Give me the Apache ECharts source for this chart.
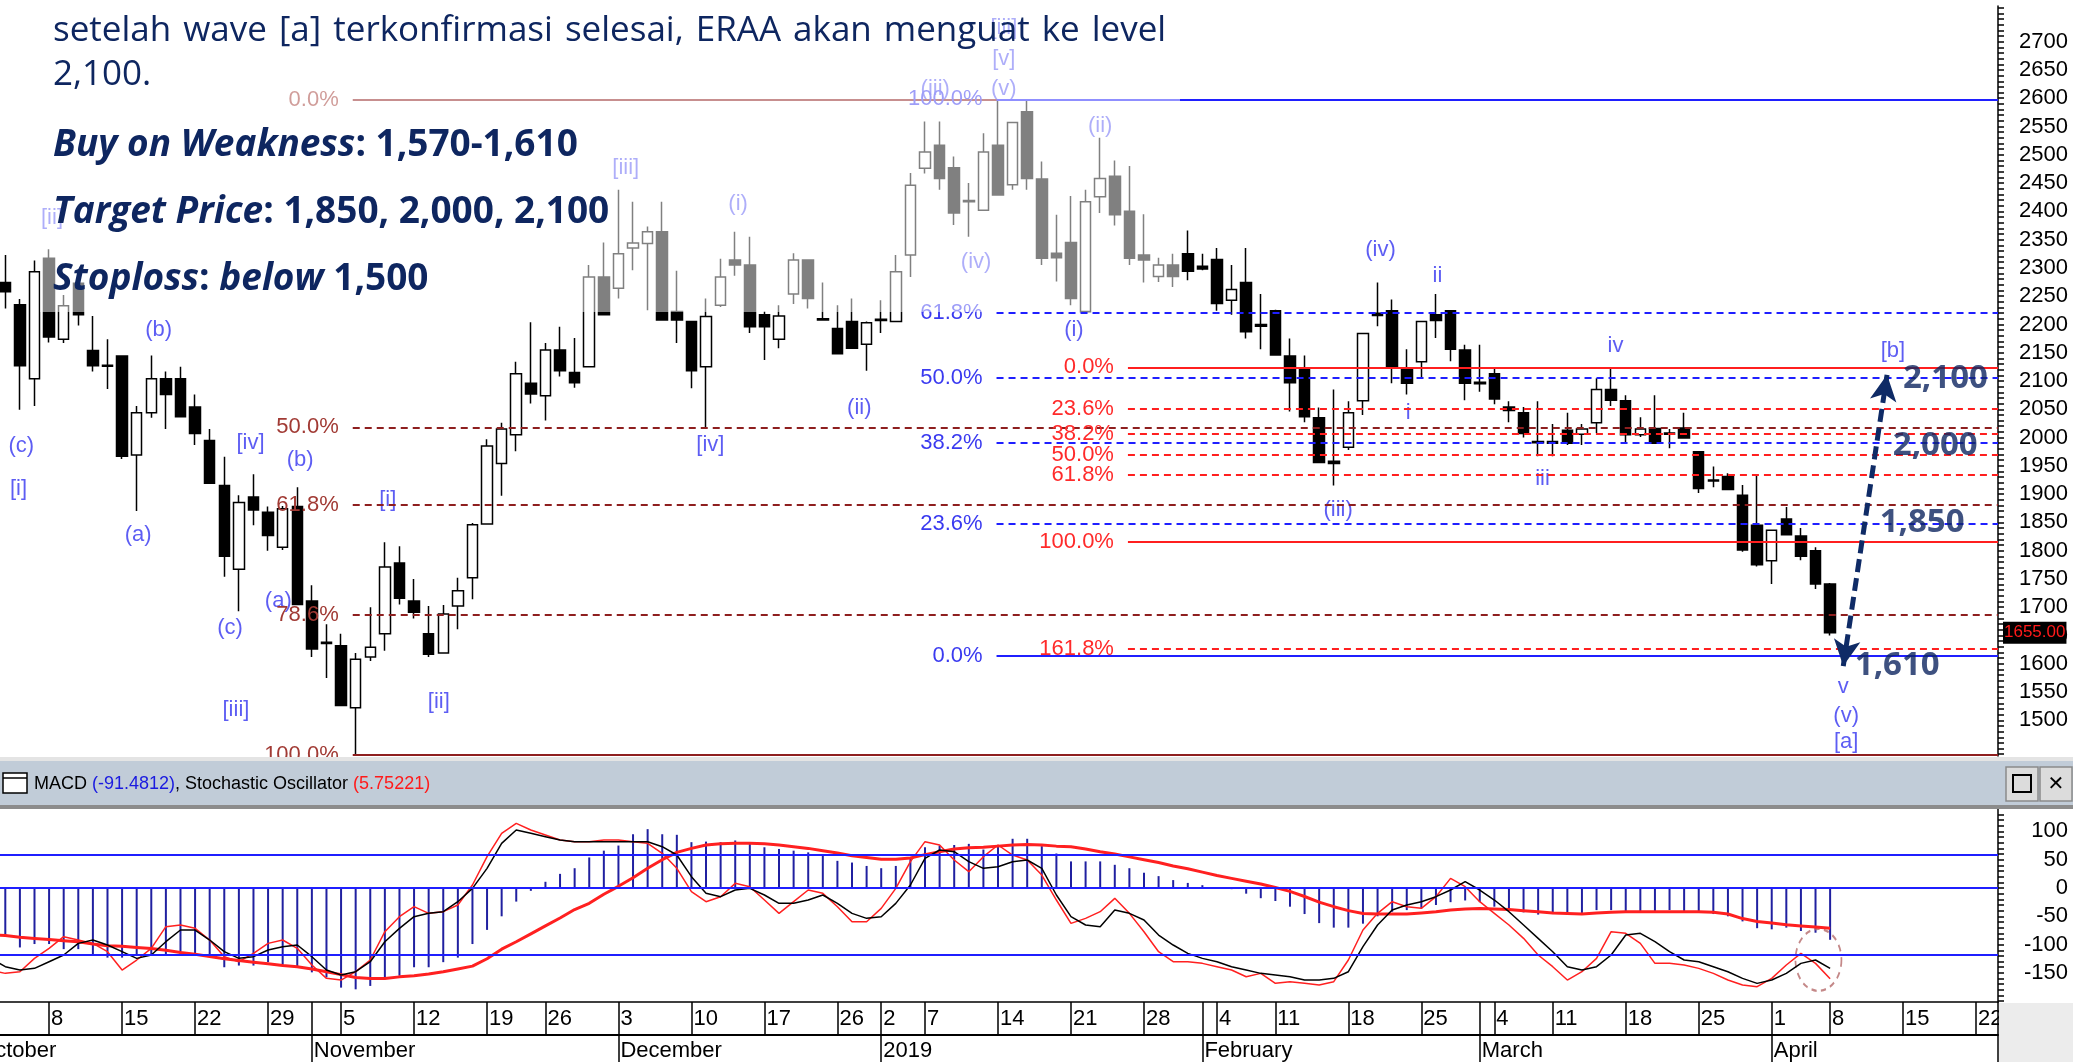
<!DOCTYPE html>
<html>
<head>
<meta charset="utf-8">
<script src="https://cdn.jsdelivr.net/npm/echarts@6.0.0/dist/echarts.min.js"></script>
<style>
html,body{margin:0;padding:0;background:#ffffff;overflow:hidden;}
#chart{width:2073px;height:1062px;}
</style>
</head>
<body>
<div id="chart"></div>
<script>
// ================= DATA =================
const dates = [
'2018-10-01','2018-10-02','2018-10-03','2018-10-04','2018-10-05','2018-10-08','2018-10-09','2018-10-10','2018-10-11','2018-10-12',
'2018-10-15','2018-10-16','2018-10-17','2018-10-18','2018-10-19','2018-10-22','2018-10-23','2018-10-24','2018-10-25','2018-10-26',
'2018-10-29','2018-10-30','2018-10-31',
'2018-11-01','2018-11-02','2018-11-05','2018-11-06','2018-11-07','2018-11-08','2018-11-09','2018-11-12','2018-11-13','2018-11-14',
'2018-11-15','2018-11-16','2018-11-19','2018-11-21','2018-11-22','2018-11-23','2018-11-26','2018-11-27','2018-11-28','2018-11-29','2018-11-30',
'2018-12-03','2018-12-04','2018-12-05','2018-12-06','2018-12-07','2018-12-10','2018-12-11','2018-12-12','2018-12-13','2018-12-14',
'2018-12-17','2018-12-18','2018-12-19','2018-12-20','2018-12-21','2018-12-26','2018-12-27','2018-12-28',
'2019-01-02','2019-01-03','2019-01-04','2019-01-07','2019-01-08','2019-01-09','2019-01-10','2019-01-11','2019-01-14','2019-01-15',
'2019-01-16','2019-01-17','2019-01-18','2019-01-21','2019-01-22','2019-01-23','2019-01-24','2019-01-25','2019-01-28','2019-01-29','2019-01-30','2019-01-31',
'2019-02-01','2019-02-04','2019-02-06','2019-02-07','2019-02-08','2019-02-11','2019-02-12','2019-02-13','2019-02-14','2019-02-15',
'2019-02-18','2019-02-19','2019-02-20','2019-02-21','2019-02-22','2019-02-25','2019-02-26','2019-02-27','2019-02-28',
'2019-03-01','2019-03-04','2019-03-05','2019-03-06','2019-03-08','2019-03-11','2019-03-12','2019-03-13','2019-03-14','2019-03-15',
'2019-03-18','2019-03-19','2019-03-20','2019-03-21','2019-03-22','2019-03-25','2019-03-26','2019-03-27','2019-03-28','2019-03-29',
'2019-04-01','2019-04-02','2019-04-04','2019-04-05','2019-04-08','2019-04-09','2019-04-10','2019-04-11','2019-04-12',
'2019-04-15','2019-04-16','2019-04-17','2019-04-18','2019-04-19','2019-04-22','2019-04-23'
];

// daily prices, first value = 2018-10-03
const candleStart = '2018-10-03';
const openP = [2274,2235,2104,2317,2174,2273,2154,2128,2144,1969, 2044,2104,2104,2054,1995,1915,1767,1895,1868,1806,
 1878,1711,1638,1632,1522,1612,1653,1778,1711,1653, 1619,1702,1752,1847,1954,2005,2096,2074,2155,2115,
 2125,2284,2264,2335,2343,2364,2223,2205,2125,2234, 2314,2305,2217,2174,2254,2314,2210,2193,2205,2165,
 2209,2205,2323,2476,2517,2477,2419,2402,2517,2447, 2576,2457,2326,2345,2223,2426,2462,2400,2323,2285,
 2305,2325,2303,2315,2243,2274,2200,2224,2144,2122, 2035,1958,1983,2065,2220,2224,2123,2134,2217,2224,
 2155,2098,2113,2054,2044,1993,1993,2013,2006,2026, 2085,2065,2005,2016,2008,2017,1975,1925,1931,1898,
 1845,1782,1856,1826,1800,1741];
const closeP = [2258,2127,2293,2178,2233,2217,2127,2126,1967,2044, 2104,2076,2037,2007,1919,1790,1885,1872,1827,1874,
 1705,1626,1636,1526,1608,1629,1771,1716,1691,1617, 1688,1729,1846,1985,2015,2113,2077,2155,2118,2097,
 2284,2217,2325,2344,2364,2208,2208,2118,2214,2284, 2305,2196,2196,2215,2314,2246,2208,2148,2158,2203,
 2207,2293,2446,2505,2458,2397,2417,2505,2429,2557, 2458,2317,2318,2246,2417,2458,2394,2317,2314,2305,
 2285,2294,2298,2237,2262,2187,2197,2146,2097,2037, 1956,1954,2044,2184,2216,2125,2096,2205,2207,2156,
 2096,2095,2068,2048,2007,1991,1990,1990,2015,2085, 2066,2005,2015,1990,2006,1999,1910,1923,1908,1801,
 1775,1836,1828,1790,1741,1655];
const lowP = [2228,2049,2056,2168,2167,2198,2117,2086,1962,1870, 2035,2015,2037,1987,1919,1754,1693,1845,1800,1801,
 1705,1612,1575,1526,1440,1605,1623,1705,1680,1612, 1619,1661,1714,1847,1897,1976,2060,2030,2108,2088,
 2125,2217,2246,2296,2225,2208,2167,2087,2018,2231, 2286,2185,2137,2158,2236,2228,2208,2148,2158,2118,
 2185,2205,2284,2467,2438,2376,2355,2402,2429,2438, 2438,2305,2276,2234,2223,2397,2375,2305,2274,2275,
 2266,2278,2296,2224,2217,2175,2156,2146,2046,2027, 1956,1915,1978,2040,2197,2096,2076,2104,2176,2135,
 2066,2081,2059,2027,2000,1967,1967,1987,1987,2008, 2056,1989,2001,1989,1981,1998,1902,1912,1908,1798,
 1772,1741,1828,1783,1732,1650];
const highP = [2323,2245,2313,2333,2252,2286,2215,2174,2144,2056, 2145,2117,2125,2076,2015,1966,1898,1935,1878,1879,
 1912,1739,1670,1653,1619,1700,1815,1808,1750,1702, 1704,1752,1849,1997,2026,2134,2204,2167,2196,2176,
 2305,2345,2438,2417,2373,2417,2295,2205,2246,2316, 2364,2355,2223,2234,2326,2314,2274,2234,2246,2205,
 2243,2323,2468,2559,2559,2497,2450,2538,2597,2557, 2597,2488,2394,2427,2438,2530,2490,2480,2395,2318,
 2325,2366,2325,2335,2305,2335,2254,2226,2175,2145, 2053,2085,2064,2184,2274,2244,2156,2205,2254,2224,
 2164,2164,2122,2064,2054,2064,2024,2044,2024,2105, 2123,2075,2036,2075,2015,2044,1976,1949,1937,1916,
 1932,1836,1877,1840,1806,1743];

// indicators, first value = 2018-10-02
const indStart = '2018-10-02';
const macdHist = [-80, -85,-105,-99,-99,-108,-108,-120,-123,-123,-120, -120,-120,-120,-120,-120,-140,-137,-137,-131,-137,
 -140,-149,-158,-176,-179,-173,-161,-155,-140,-140, -131,-123,-99,-74,-50,-24,-5,11,25,35,
 54,66,75,95,104,95,94,81,82,81, 84,78,72,69,66,63,58,48,45,39,
 35,39,54,72,75,76,78,68,75,87, 87,74,61,47,47,47,41,35,27,21,
 14,9,5,0,-2,-10,-18,-23,-33,-46, -62,-70,-70,-63,-50,-42,-39,-36,-30,-25,
 -22,-25,-33,-39,-43,-47,-46,-44,-44,-39, -39,-41,-41,-41,-39,-42,-41,-46,-50,-59,
 -71,-73,-70,-76,-79,-91.4812];
const macdSignal = [-82, -84,-87,-89,-91,-93,-95,-99,-102,-103,-105, -107,-110,-114,-117,-121,-125,-128,-131,-134,-137,
 -139,-143,-148,-153,-158,-160,-160,-157,-155,-152, -148,-143,-138,-125,-108,-95,-81,-67,-53,-38,
 -27,-11,3,18,35,50,63,70,76,78, 79,79,78,76,73,70,66,62,57,54,
 51,51,53,59,64,69,71,72,74,76, 77,76,74,73,69,64,60,55,50,45,
 39,34,28,22,17,12,7,1,-6,-15, -25,-33,-40,-45,-46,-46,-46,-44,-42,-39,
 -37,-36,-37,-38,-40,-42,-44,-45,-46,-44, -43,-42,-42,-42,-42,-42,-42,-43,-46,-54,
 -59,-62,-65,-67,-69,-71];
const stochK = [11, 9,10,18,24,31,29,27,22,11,17, 24,37,38,36,29,19,16,21,27,29,
 24,14,6,5,10,17,34,43,49,45, 46,50,62,79,93,99,95,92,89,88,
 88,89,89,88,87,81,72,58,52,55, 63,61,53,45,52,59,57,49,40,40,
 48,60,76,88,86,77,70,79,86,80, 77,68,53,39,42,46,54,45,34,22,
 16,16,15,13,11,7,9,3,4,3, 2,4,17,35,45,52,49,48,55,66,
 61,52,45,38,30,20,13,5,10,18, 34,33,27,15,15,14,12,9,5,2,
 1,6,14,21,15,5.75221];
const stochD = [18, 13,11,12,16,20,27,29,26,22,18, 20,28,35,35,29,22,18,19,23,25,
 26,19,11,8,10,16,28,36,43,45, 46,52,60,72,87,95,93,91,89,88,
 88,88,88,88,88,85,80,67,57,55, 59,60,56,51,51,53,56,51,45,42,
 43,51,62,78,83,82,76,72,73,76, 77,72,56,43,38,37,47,45,41,32,
 26,21,18,16,13,11,9,8,7,5, 5,6,10,25,38,47,50,52,55,59,
 64,59,53,46,38,30,22,13,11,13, 20,32,33,28,22,17,16,13,10,6,
 3,5,9,15,17,12];

// axis tick labels
const priceLabels = [1500,1550,1600,1650,1700,1750,1800,1850,1900,1950,2000,2050,2100,2150,2200,2250,2300,2350,2400,2450,2500,2550,2600,2650,2700];
const macdLabels = [-150,-100,-50,0,50,100];
const dayLabelDates = ['2018-10-08','2018-10-15','2018-10-22','2018-10-29','2018-11-05','2018-11-12','2018-11-19','2018-11-26',
 '2018-12-03','2018-12-10','2018-12-17','2018-12-26','2019-01-02','2019-01-07','2019-01-14','2019-01-21','2019-01-28',
 '2019-02-04','2019-02-11','2019-02-18','2019-02-25','2019-03-04','2019-03-11','2019-03-18','2019-03-25',
 '2019-04-01','2019-04-08','2019-04-15','2019-04-22'];
const monthStarts = ['2018-10-01','2018-11-01','2018-12-03','2019-01-02','2019-02-01','2019-03-01','2019-04-01'];
const monthNames = ['October','November','December','2019','February','March','April'];

// Fibonacci levels (price)
const darkFibLabels = ['0.0%','50.0%','61.8%','78.6%','100.0%'];
const darkFibPrices = [2597,2018,1881,1686,1439];
const blueFibLabels = ['100.0%','61.8%','50.0%','38.2%','23.6%','0.0%'];
const blueFibPrices = [2598,2221,2106,1990,1847,1614];
const redFibLabels = ['0.0%','23.6%','38.2%','50.0%','61.8%','100.0%','161.8%'];
const redFibPrices = [2124,2051,2006,1970,1934,1816,1626];

// Elliott wave labels (position = date index, price)
const waveText = ['[ii]','(c)','[i]','(b)','(a)','[iv]','(b)','(a)','(c)','[iii]','[i]','[ii]','[iii]','(i)','(ii)','[iv]',
 '(iii)','(v)','[v]','[iii]','(iv)','(ii)','(i)','(iv)','ii','i','(iii)','iii','iv','[b]','v','(v)','[a]'];
const waveIdx = [5.2,3.1,2.9,12.5,11.1,18.8,22.2,20.7,17.4,17.8,28.2,31.7,44.5,52.2,60.5,50.3,
 65.7,70.4,70.4,70.4,68.5,77.0,75.2,96.2,100.1,98.1,93.3,107.3,112.3,131.3,127.9,128.1,128.1];
const wavePrice = [2388,1985,1909,2190,1828,1990,1960,1711,1663,1518,1890,1533,2477,2413,2052,1987,
 2616,2616,2669,2724,2310,2551,2190,2332,2286,2043,1872,1927,2162,2153,1559,1507,1462];

// target annotations
const targetText = ['2,100','2,000','1,850','1,610'];
const targetIdx = [134.9,134.2,133.3,131.6];
const targetPrice = [2105,1985,1850,1596];
const arrowFrom = [127.9,1596];
const arrowTo = [130.9,2111];
const circleAt = [126.2,-127];

// ================= CHART =================
const NARROW = '"Liberation Sans Narrow","Arial Narrow","Liberation Sans",Arial,sans-serif';
const SANS = '"Open Sans","Noto Sans",sans-serif';
const NAVY = '#0E2660';
const N = dates.length;
const lastIdx = N - 0.5;

function pad(arr, start) {
  const k = dates.indexOf(start);
  const out = new Array(N).fill('-');
  arr.forEach((v, n) => { out[k + n] = v; });
  return out;
}
const cK = dates.indexOf(candleStart);
const candleData = dates.map((d, n) => {
  const m = n - cK;
  if (m < 0 || m >= openP.length) return ['-','-','-','-'];
  return [openP[m], closeP[m], lowP[m], highP[m]];
});

function range(a, b, s) { const r = []; for (let v = a; v <= b + 1e-9; v += s) r.push(v); return r; }

const pMax = 2763.1, pMin = 1436.9;
const vMax = 139.6, vMin = -201.4;
const sMin = -8.18, sMax = 107.6;

function fibData(labels, prices, startIdx, color, labelColor, solid) {
  return labels.map((lab, n) => [
    { coord: [startIdx, prices[n]],
      lineStyle: { color: color, width: 2, type: solid.indexOf(lab) >= 0 ? 'solid' : [7, 5] },
      label: { show: true, formatter: lab, position: 'start', distance: 14, color: labelColor,
               fontFamily: NARROW, fontSize: 22 } },
    { coord: [lastIdx, prices[n]] }
  ]);
}

const dayLabelSet = new Set(dayLabelDates);
const monthSet = new Set(monthStarts);

const line2Words = 'setelah wave [a] terkonfirmasi selesai, ERAA akan menguat ke level'.split(' ');
const line2Text = line2Words.map(w => '{w|' + w + '}').join('{sp| }');
const lastClose = closeP[closeP.length - 1];

const option = {
  animation: false,
  backgroundColor: '#ffffff',
  grid: [
    { left: -31.2, right: 75, top: 6, height: 750, outerBoundsMode: 'none', containLabel: false },
    { left: -31.2, right: 75, top: 809, height: 193, outerBoundsMode: 'none', containLabel: false }
  ],
  xAxis: [
    { type: 'category', gridIndex: 0, data: dates, show: false, boundaryGap: true },
    { type: 'value', gridIndex: 0, min: -0.5, max: lastIdx, show: false },
    { type: 'category', gridIndex: 1, data: dates, position: 'bottom', boundaryGap: true,
      axisLine: { show: true, onZero: false, lineStyle: { color: '#000', width: 1.5 } },
      axisTick: { show: true, alignWithLabel: true, length: 33, lineStyle: { color: '#000', width: 1.5 },
        interval: (i, v) => dayLabelSet.has(v) || monthSet.has(v) },
      axisLabel: { show: true, interval: (i, v) => dayLabelSet.has(v), formatter: v => String(parseInt(v.slice(8), 10)),
        align: 'left', margin: 6, padding: [0, 0, 0, 2], color: '#000', fontFamily: NARROW, fontSize: 22 },
      splitLine: { show: false } },
    { type: 'category', gridIndex: 1, data: dates, position: 'bottom', offset: 33, boundaryGap: true,
      axisLine: { show: true, onZero: false, lineStyle: { color: '#000', width: 2 } },
      axisTick: { show: true, alignWithLabel: true, length: 28, lineStyle: { color: '#000', width: 1.5 },
        interval: (i, v) => monthSet.has(v) },
      axisLabel: { show: true, interval: (i, v) => monthSet.has(v), formatter: v => monthNames[monthStarts.indexOf(v)],
        align: 'left', margin: 5, padding: [0, 0, 0, 2], color: '#000', fontFamily: NARROW, fontSize: 22 },
      splitLine: { show: false } },
    { type: 'value', gridIndex: 1, min: -0.5, max: lastIdx, show: false }
  ],
  yAxis: [
    { type: 'value', gridIndex: 0, position: 'right', min: pMin, max: pMax, splitLine: { show: false },
      axisLine: { show: true, onZero: false, lineStyle: { color: '#000', width: 1.5 } },
      axisTick: { show: true, customValues: range(1440, 2760, 10), length: 6, lineStyle: { color: '#000', width: 1.5 } },
      axisLabel: { show: false } },
    { type: 'value', gridIndex: 0, position: 'right', min: pMin, max: pMax, splitLine: { show: false },
      axisLine: { show: false },
      axisTick: { show: true, customValues: range(1450, 2750, 50), length: 14, lineStyle: { color: '#000', width: 1.5 } },
      axisLabel: { show: true, customValues: priceLabels, formatter: v => String(v), align: 'right', margin: 70,
        color: '#000', fontFamily: NARROW, fontSize: 22 } },
    { type: 'value', gridIndex: 1, position: 'right', min: vMin, max: vMax, splitLine: { show: false },
      axisLine: { show: true, onZero: false, lineStyle: { color: '#000', width: 1.5 } },
      axisTick: { show: true, customValues: range(-200, 130, 10), length: 6, lineStyle: { color: '#000', width: 1.5 } },
      axisLabel: { show: false } },
    { type: 'value', gridIndex: 1, position: 'right', min: vMin, max: vMax, splitLine: { show: false },
      axisLine: { show: false },
      axisTick: { show: true, customValues: range(-200, 100, 50), length: 14, lineStyle: { color: '#000', width: 1.5 } },
      axisLabel: { show: true, customValues: macdLabels, formatter: v => String(v), align: 'right', margin: 70,
        color: '#000', fontFamily: NARROW, fontSize: 22 } },
    { type: 'value', gridIndex: 1, min: sMin, max: sMax, show: false }
  ],
  series: [
    { type: 'candlestick', xAxisIndex: 0, yAxisIndex: 1, data: candleData, barWidth: 11, z: 3,
      itemStyle: { color: '#ffffff', color0: '#000000', borderColor: '#000000', borderColor0: '#000000', borderWidth: 1.5 },
      markLine: { silent: true, symbol: ['none', 'none'], data: [{ yAxis: lastClose }],
        lineStyle: { color: 'rgba(0,0,0,0)', width: 1 },
        label: { show: true, position: 'end', distance: 5, formatter: lastClose.toFixed(2),
          backgroundColor: '#000', color: '#ff1a1a', padding: [3, 1, 2, 1], fontFamily: '"Liberation Sans",Arial,sans-serif', fontSize: 17 } } },
    { type: 'scatter', xAxisIndex: 1, yAxisIndex: 1, data: [], z: 2,
      markLine: { silent: true, symbol: ['none', 'none'],
        data: [].concat(
          fibData(darkFibLabels, darkFibPrices, 25.8, '#8e1f1f', '#a13a34', ['0.0%', '100.0%']),
          fibData(blueFibLabels, blueFibPrices, 69.9, '#1f1fff', '#3a3af0', ['0.0%', '100.0%']),
          fibData(redFibLabels, redFibPrices, 78.9, '#ff1f1f', '#ff2a2a', ['0.0%', '100.0%'])
        ) } },
    { type: 'scatter', xAxisIndex: 1, yAxisIndex: 1, symbolSize: 1, z: 4,
      itemStyle: { color: 'rgba(0,0,0,0)' },
      data: waveText.map((t, n) => ({ name: t, value: [waveIdx[n], wavePrice[n]] })),
      label: { show: true, position: 'inside', formatter: p => p.name, color: '#3434f0', fontFamily: NARROW, fontSize: 22 } },
    { type: 'scatter', xAxisIndex: 1, yAxisIndex: 1, symbolSize: 1, z: 6,
      itemStyle: { color: 'rgba(0,0,0,0)' },
      data: targetText.map((t, n) => ({ name: t, value: [targetIdx[n], targetPrice[n]] })),
      label: { show: true, position: 'inside', formatter: p => p.name, color: NAVY, fontFamily: SANS, fontWeight: 'bold', fontSize: 33 },
      markLine: { silent: true, symbol: ['arrow', 'arrow'], symbolSize: [20, 26],
        lineStyle: { color: '#0F2B66', width: 5, type: [13, 6] }, label: { show: false },
        data: [[{ coord: arrowFrom }, { coord: arrowTo }]] } },
    { type: 'bar', xAxisIndex: 2, yAxisIndex: 3, data: pad(macdHist, indStart), barWidth: 2,
      itemStyle: { color: '#2020a0' },
      markLine: { silent: true, symbol: ['none', 'none'], label: { show: false },
        lineStyle: { color: '#1f1fff', width: 2, type: 'solid' }, data: [{ yAxis: 0 }] } },
    { type: 'line', xAxisIndex: 2, yAxisIndex: 3, data: pad(macdSignal, indStart), showSymbol: false, symbol: 'none',
      lineStyle: { color: '#ff2020', width: 3 } },
    { type: 'line', xAxisIndex: 2, yAxisIndex: 4, data: pad(stochK, indStart), showSymbol: false, symbol: 'none',
      lineStyle: { color: '#ff2020', width: 1.5 },
      markLine: { silent: true, symbol: ['none', 'none'], label: { show: false },
        lineStyle: { color: '#1f1fff', width: 2, type: 'solid' }, data: [{ yAxis: 80 }, { yAxis: 20 }] } },
    { type: 'line', xAxisIndex: 2, yAxisIndex: 4, data: pad(stochD, indStart), showSymbol: false, symbol: 'none',
      lineStyle: { color: '#000000', width: 1.5 } },
    { type: 'scatter', xAxisIndex: 4, yAxisIndex: 3, data: [circleAt], symbol: 'circle', symbolSize: [46, 62],
      itemStyle: { color: 'rgba(0,0,0,0)', borderColor: '#b56a6a', borderWidth: 2, borderType: [6, 5] } }
  ],
  graphic: [
    { type: 'rect', shape: { x: 40, y: 0, width: 1140, height: 312 }, style: { fill: 'rgba(255,255,255,0.5)' }, z: 100, silent: true },
    { type: 'text', x: 53, y: 31, z: 110, style: { text: line2Text, verticalAlign: 'middle',
      rich: { w: { fontFamily: SANS, fontSize: 35, fill: NAVY }, sp: { fontFamily: SANS, fontSize: 35, width: 12 } } } },
    { type: 'text', x: 53, y: 75, z: 110, style: { text: '2,100.', fontFamily: SANS, fontSize: 35, fill: NAVY, verticalAlign: 'middle' } },
    { type: 'text', x: 53, y: 145, z: 110, style: { text: '{bi|Buy on Weakness}{b|: 1,570-1,610}', verticalAlign: 'middle',
      rich: { bi: { fontFamily: SANS, fontSize: 37, fontWeight: 'bold', fontStyle: 'italic', fill: NAVY },
              b: { fontFamily: SANS, fontSize: 37, fontWeight: 'bold', fill: NAVY } } } },
    { type: 'text', x: 53, y: 212, z: 110, style: { text: '{bi|Target Price}{b|: 1,850, 2,000, 2,100}', verticalAlign: 'middle',
      rich: { bi: { fontFamily: SANS, fontSize: 37, fontWeight: 'bold', fontStyle: 'italic', fill: NAVY },
              b: { fontFamily: SANS, fontSize: 37, fontWeight: 'bold', fill: NAVY } } } },
    { type: 'text', x: 53, y: 279, z: 110, style: { text: '{bi|Stoploss}{b|: }{bi|below}{b| 1,500}', verticalAlign: 'middle',
      rich: { bi: { fontFamily: SANS, fontSize: 37, fontWeight: 'bold', fontStyle: 'italic', fill: NAVY },
              b: { fontFamily: SANS, fontSize: 37, fontWeight: 'bold', fill: NAVY } } } },
    { type: 'rect', shape: { x: 0, y: 757, width: 2073, height: 52 }, style: { fill: '#c1ccd8' }, z: 90, silent: true },
    { type: 'rect', shape: { x: 0, y: 757, width: 2073, height: 4 }, style: { fill: '#e4e4e4' }, z: 91, silent: true },
    { type: 'rect', shape: { x: 0, y: 805, width: 2073, height: 4 }, style: { fill: '#8c8c8c' }, z: 91, silent: true },
    { type: 'rect', shape: { x: 3, y: 773, width: 24, height: 20 }, style: { fill: '#fff', stroke: '#000', lineWidth: 1.5 }, z: 92 },
    { type: 'line', shape: { x1: 3, y1: 778, x2: 27, y2: 778 }, style: { stroke: '#000', lineWidth: 1.5 }, z: 92 },
    { type: 'text', x: 34, y: 784, z: 92, style: { text: '{k|MACD }{b|(-91.4812)}{k|, Stochastic Oscillator }{r|(5.75221)}', verticalAlign: 'middle',
      rich: { k: { fontFamily: NARROW, fontSize: 18, fill: '#000' }, b: { fontFamily: NARROW, fontSize: 18, fill: '#1a1ae0' },
              r: { fontFamily: NARROW, fontSize: 18, fill: '#ff1a1a' } } } },
    { type: 'rect', shape: { x: 2006, y: 767, width: 32, height: 34 }, style: { fill: '#dcdcdc', stroke: '#8a8a8a', lineWidth: 1.5 }, z: 92 },
    { type: 'rect', shape: { x: 2013, y: 775, width: 18, height: 17 }, style: { fill: 'none', stroke: '#000', lineWidth: 2 }, z: 93 },
    { type: 'rect', shape: { x: 2040, y: 767, width: 32, height: 34 }, style: { fill: '#dcdcdc', stroke: '#8a8a8a', lineWidth: 1.5 }, z: 92 },
    { type: 'text', x: 2056, y: 785, z: 93, style: { text: '✕', fontFamily: 'DejaVu Sans', fontSize: 20, fontWeight: 'bold', fill: '#000', align: 'center', verticalAlign: 'middle' } },
    { type: 'rect', shape: { x: 1999, y: 1003, width: 74, height: 59 }, style: { fill: '#ececec' }, z: 90, silent: true },
    { type: 'line', shape: { x1: 1998, y1: 1002, x2: 1998, y2: 1062 }, style: { stroke: '#000', lineWidth: 1.5 }, z: 91 }
  ]
};

const chart = echarts.init(document.getElementById('chart'), null, { renderer: 'canvas', width: 2073, height: 1062 });
chart.setOption(option);
</script>
</body>
</html>
